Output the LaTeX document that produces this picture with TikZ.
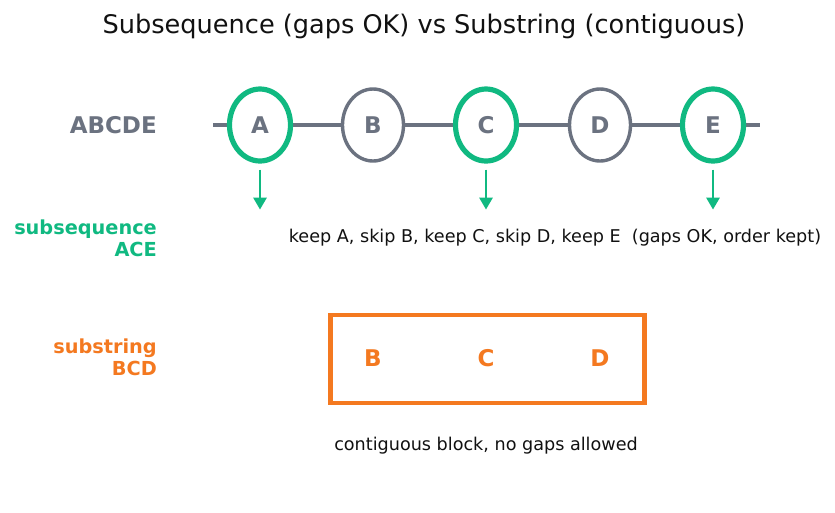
\documentclass[tikz,border=0pt]{standalone}
\usepackage{fontspec}
\setmainfont{DejaVu Sans}
\usetikzlibrary{shapes.geometric,arrows.meta}
\definecolor{grn}{HTML}{10B981}
\definecolor{gry}{HTML}{6B7280}
\definecolor{org}{HTML}{F47920}
\definecolor{ink}{HTML}{111111}
\tikzset{
  elem/.style={ellipse, draw=gry, line width=3.4pt, fill=white, minimum width=61, minimum height=72, inner sep=0pt, text=gry, font=\fontsize{23}{26}\selectfont\bfseries},
  keep/.style={elem, draw=grn, line width=5.2pt},
  arr/.style={grn, line width=2.8pt, -{Triangle[width=13pt,length=12pt]}},
  side/.style={anchor=east, align=right, inner sep=0pt, font=\fontsize{19.3}{22}\selectfont\bfseries},
  note/.style={inner sep=0pt, text=ink, font=\fontsize{17.6}{20}\selectfont},
  boxletter/.style={inner sep=0pt, text=org, font=\fontsize{23}{26}\selectfont\bfseries}
}
\begin{document}
\begin{tikzpicture}[x=1pt,y=-1pt]
\useasboundingbox[fill=white] (0,0) rectangle (835,512);
\node[inner sep=0pt, text=ink, font=\fontsize{25.6}{30}\selectfont] (title) at (424,26) {Subsequence (gaps OK) vs Substring (contiguous)};
\coordinate (L0) at (213,125);
\coordinate (L1) at (760,125);
\draw[gry, line width=3.2pt] (L0) -- (L1);
\node[keep] (A) at (260,125) {A};
\node[elem] (B) at (373,125) {B};
\node[keep] (C) at (486,125) {C};
\node[elem] (D) at (600,125) {D};
\node[keep] (E) at (713,125) {E};
\node[side, text=gry, font=\fontsize{23}{26}\selectfont\bfseries] (lab1) at (157,125) {ABCDE};
\node[side, text=grn] (lab2) at (157,238) {subsequence\\ACE};
\node[side, text=org] (lab3) at (157,357) {substring\\BCD};
\foreach \n in {A,C,E}{
  \coordinate (\n s) at ([yshift=-6pt]\n.south);
  \coordinate (\n t) at ([yshift=-46pt]\n.south);
  \draw[arr] (\n s) -- (\n t);
}
\node[note] (keepnote) at (555,238) {keep A, skip B, keep C, skip D, keep E\ \ (gaps OK, order kept)};
\node[draw=org, line width=4.5pt, minimum width=314, minimum height=88, inner sep=0pt] (box) at (487.5,359) {};
\node[boxletter] (bB) at (373,358) {B};
\node[boxletter] (bC) at (486,358) {C};
\node[boxletter] (bD) at (600,358) {D};
\node[note] (contig) at (486,446) {contiguous block, no gaps allowed};
\end{tikzpicture}
\end{document}
